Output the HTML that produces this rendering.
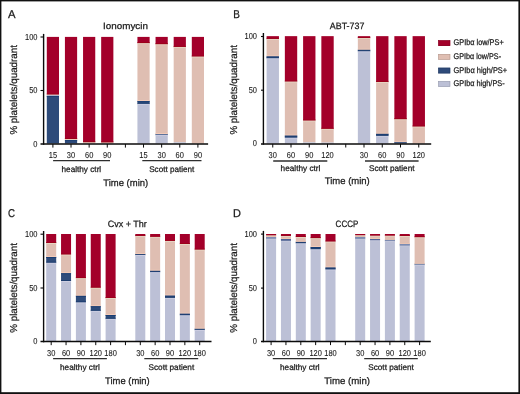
<!DOCTYPE html>
<html><head><meta charset="utf-8"><style>
html,body{margin:0;padding:0;background:#fff;}
body{width:520px;height:394px;overflow:hidden;}
svg{display:block;font-family:"Liberation Sans", sans-serif;will-change:transform;text-rendering:geometricPrecision;}
</style></head><body>
<svg width="520" height="394" viewBox="0 0 520 394">
<rect x="0" y="0" width="520" height="394" fill="#fff"/>
<rect x="46.80" y="36.90" width="12.20" height="57.60" fill="#A3002A"/>
<rect x="46.80" y="94.50" width="12.20" height="0.80" fill="#DFBEB2"/>
<rect x="46.80" y="95.30" width="12.20" height="0.60" fill="#BCC0D6"/>
<rect x="46.80" y="95.90" width="12.20" height="47.60" fill="#2E4B7A"/>
<rect x="46.80" y="94.50" width="12.20" height="0.40" fill="#e6d5c2"/>
<rect x="46.80" y="93.50" width="12.20" height="1.00" fill="#9c001a"/>
<rect x="46.80" y="95.60" width="12.20" height="0.30" fill="#cdcee1"/>
<rect x="46.80" y="95.90" width="12.20" height="1.00" fill="#1d3d6f"/>
<rect x="64.92" y="36.90" width="12.20" height="102.10" fill="#A3002A"/>
<rect x="64.92" y="139.00" width="12.20" height="1.10" fill="#DFBEB2"/>
<rect x="64.92" y="140.10" width="12.20" height="3.40" fill="#2E4B7A"/>
<rect x="64.92" y="139.00" width="12.20" height="0.55" fill="#e6d5c2"/>
<rect x="64.92" y="138.00" width="12.20" height="1.00" fill="#9c001a"/>
<rect x="64.92" y="139.55" width="12.20" height="0.55" fill="#f4ccb9"/>
<rect x="64.92" y="140.10" width="12.20" height="1.00" fill="#193d73"/>
<rect x="83.05" y="36.90" width="12.20" height="105.30" fill="#A3002A"/>
<rect x="83.05" y="142.20" width="12.20" height="1.30" fill="#DFBEB2"/>
<rect x="83.05" y="142.20" width="12.20" height="0.65" fill="#e6d5c2"/>
<rect x="83.05" y="141.20" width="12.20" height="1.00" fill="#9c001a"/>
<rect x="101.17" y="36.90" width="12.20" height="105.50" fill="#A3002A"/>
<rect x="101.17" y="142.40" width="12.20" height="1.10" fill="#DFBEB2"/>
<rect x="101.17" y="142.40" width="12.20" height="0.55" fill="#e6d5c2"/>
<rect x="101.17" y="141.40" width="12.20" height="1.00" fill="#9c001a"/>
<rect x="137.43" y="36.90" width="12.20" height="6.20" fill="#A3002A"/>
<rect x="137.43" y="43.10" width="12.20" height="58.00" fill="#DFBEB2"/>
<rect x="137.43" y="101.10" width="12.20" height="2.70" fill="#2E4B7A"/>
<rect x="137.43" y="103.80" width="12.20" height="39.70" fill="#BCC0D6"/>
<rect x="137.43" y="43.10" width="12.20" height="1.00" fill="#e6d5c2"/>
<rect x="137.43" y="42.10" width="12.20" height="1.00" fill="#9c001a"/>
<rect x="137.43" y="100.10" width="12.20" height="1.00" fill="#f4ccb9"/>
<rect x="137.43" y="101.10" width="12.20" height="1.00" fill="#193d73"/>
<rect x="137.43" y="103.80" width="12.20" height="1.00" fill="#cdcee1"/>
<rect x="137.43" y="102.80" width="12.20" height="1.00" fill="#1d3d6f"/>
<rect x="155.55" y="36.90" width="12.20" height="7.30" fill="#A3002A"/>
<rect x="155.55" y="44.20" width="12.20" height="89.80" fill="#DFBEB2"/>
<rect x="155.55" y="134.00" width="12.20" height="0.70" fill="#2E4B7A"/>
<rect x="155.55" y="134.70" width="12.20" height="8.80" fill="#BCC0D6"/>
<rect x="155.55" y="44.20" width="12.20" height="1.00" fill="#e6d5c2"/>
<rect x="155.55" y="43.20" width="12.20" height="1.00" fill="#9c001a"/>
<rect x="155.55" y="133.00" width="12.20" height="1.00" fill="#f4ccb9"/>
<rect x="155.55" y="134.00" width="12.20" height="0.35" fill="#193d73"/>
<rect x="155.55" y="134.70" width="12.20" height="1.00" fill="#cdcee1"/>
<rect x="155.55" y="134.35" width="12.20" height="0.35" fill="#1d3d6f"/>
<rect x="173.68" y="36.90" width="12.20" height="10.00" fill="#A3002A"/>
<rect x="173.68" y="46.90" width="12.20" height="95.40" fill="#DFBEB2"/>
<rect x="173.68" y="142.30" width="12.20" height="1.20" fill="#BCC0D6"/>
<rect x="173.68" y="46.90" width="12.20" height="1.00" fill="#e6d5c2"/>
<rect x="173.68" y="45.90" width="12.20" height="1.00" fill="#9c001a"/>
<rect x="191.80" y="36.90" width="12.20" height="19.60" fill="#A3002A"/>
<rect x="191.80" y="56.50" width="12.20" height="87.00" fill="#DFBEB2"/>
<rect x="191.80" y="56.50" width="12.20" height="1.00" fill="#e6d5c2"/>
<rect x="191.80" y="55.50" width="12.20" height="1.00" fill="#9c001a"/>
<line x1="43.60" y1="33.90" x2="43.60" y2="144.75" stroke="#0a0a0a" stroke-width="1.4"/>
<line x1="40.50" y1="37.00" x2="43.60" y2="37.00" stroke="#0a0a0a" stroke-width="1.1"/>
<line x1="40.50" y1="90.50" x2="43.60" y2="90.50" stroke="#0a0a0a" stroke-width="1.1"/>
<line x1="40.50" y1="144.00" x2="208.10" y2="144.00" stroke="#0a0a0a" stroke-width="1.5"/>
<line x1="52.90" y1="144.00" x2="52.90" y2="147.60" stroke="#0a0a0a" stroke-width="1.0"/>
<line x1="71.03" y1="144.00" x2="71.03" y2="147.60" stroke="#0a0a0a" stroke-width="1.0"/>
<line x1="89.15" y1="144.00" x2="89.15" y2="147.60" stroke="#0a0a0a" stroke-width="1.0"/>
<line x1="107.28" y1="144.00" x2="107.28" y2="147.60" stroke="#0a0a0a" stroke-width="1.0"/>
<line x1="125.40" y1="144.00" x2="125.40" y2="147.60" stroke="#0a0a0a" stroke-width="1.0"/>
<line x1="143.53" y1="144.00" x2="143.53" y2="147.60" stroke="#0a0a0a" stroke-width="1.0"/>
<line x1="161.65" y1="144.00" x2="161.65" y2="147.60" stroke="#0a0a0a" stroke-width="1.0"/>
<line x1="179.78" y1="144.00" x2="179.78" y2="147.60" stroke="#0a0a0a" stroke-width="1.0"/>
<line x1="197.90" y1="144.00" x2="197.90" y2="147.60" stroke="#0a0a0a" stroke-width="1.0"/>
<text x="0.00" y="0.00" font-size="8.6" text-anchor="end" transform="translate(37.50 39.50) scale(0.87 1)" fill="#1a1a1a" stroke="#1a1a1a" stroke-width="0.1">100</text>
<text x="0.00" y="0.00" font-size="8.6" text-anchor="end" transform="translate(37.50 93.00) scale(0.87 1)" fill="#1a1a1a" stroke="#1a1a1a" stroke-width="0.1">50</text>
<text x="0.00" y="0.00" font-size="8.6" text-anchor="end" transform="translate(37.50 146.50) scale(0.87 1)" fill="#1a1a1a" stroke="#1a1a1a" stroke-width="0.1">0</text>
<text x="0.00" y="0.00" font-size="8.6" text-anchor="middle" transform="translate(52.90 157.80) scale(0.87 1)" fill="#1a1a1a" stroke="#1a1a1a" stroke-width="0.1">15</text>
<text x="0.00" y="0.00" font-size="8.6" text-anchor="middle" transform="translate(71.03 157.80) scale(0.87 1)" fill="#1a1a1a" stroke="#1a1a1a" stroke-width="0.1">30</text>
<text x="0.00" y="0.00" font-size="8.6" text-anchor="middle" transform="translate(89.15 157.80) scale(0.87 1)" fill="#1a1a1a" stroke="#1a1a1a" stroke-width="0.1">60</text>
<text x="0.00" y="0.00" font-size="8.6" text-anchor="middle" transform="translate(107.28 157.80) scale(0.87 1)" fill="#1a1a1a" stroke="#1a1a1a" stroke-width="0.1">90</text>
<text x="0.00" y="0.00" font-size="8.6" text-anchor="middle" transform="translate(143.53 157.80) scale(0.87 1)" fill="#1a1a1a" stroke="#1a1a1a" stroke-width="0.1">15</text>
<text x="0.00" y="0.00" font-size="8.6" text-anchor="middle" transform="translate(161.65 157.80) scale(0.87 1)" fill="#1a1a1a" stroke="#1a1a1a" stroke-width="0.1">30</text>
<text x="0.00" y="0.00" font-size="8.6" text-anchor="middle" transform="translate(179.78 157.80) scale(0.87 1)" fill="#1a1a1a" stroke="#1a1a1a" stroke-width="0.1">60</text>
<text x="0.00" y="0.00" font-size="8.6" text-anchor="middle" transform="translate(197.90 157.80) scale(0.87 1)" fill="#1a1a1a" stroke="#1a1a1a" stroke-width="0.1">90</text>
<line x1="53.10" y1="160.60" x2="110.00" y2="160.60" stroke="#2e2e2e" stroke-width="1.3"/>
<line x1="142.30" y1="160.60" x2="201.50" y2="160.60" stroke="#2e2e2e" stroke-width="1.3"/>
<text x="61.50" y="171.60" font-size="8.2" text-anchor="start" textLength="39.70" lengthAdjust="spacingAndGlyphs" fill="#1a1a1a" stroke="#1a1a1a" stroke-width="0.25">healthy ctrl</text>
<text x="149.20" y="171.60" font-size="8.2" text-anchor="start" textLength="45.10" lengthAdjust="spacingAndGlyphs" fill="#1a1a1a" stroke="#1a1a1a" stroke-width="0.25">Scott patient</text>
<text x="103.30" y="185.90" font-size="9.5" text-anchor="start" textLength="44.90" lengthAdjust="spacingAndGlyphs" fill="#1a1a1a" stroke="#1a1a1a" stroke-width="0.25">Time (min)</text>
<text x="103.10" y="29.20" font-size="9.2" text-anchor="start" textLength="44.80" lengthAdjust="spacingAndGlyphs" fill="#1a1a1a" stroke="#1a1a1a" stroke-width="0.25">Ionomycin</text>
<text x="0.00" y="0.00" font-size="11.3" text-anchor="start" transform="translate(8.00 18.00) scale(1.0 1)" fill="#1a1a1a" stroke="#1a1a1a" stroke-width="0.25">A</text>
<text x="17.00" y="134.60" font-size="10" text-anchor="start" textLength="89.60" lengthAdjust="spacingAndGlyphs" transform="rotate(-90 17.00 134.60)" fill="#1a1a1a" stroke="#1a1a1a" stroke-width="0.25">% platelets/quadrant</text>
<rect x="266.60" y="36.15" width="12.35" height="2.75" fill="#A3002A"/>
<rect x="266.60" y="38.90" width="12.35" height="17.50" fill="#DFBEB2"/>
<rect x="266.60" y="56.40" width="12.35" height="1.80" fill="#2E4B7A"/>
<rect x="266.60" y="58.20" width="12.35" height="85.30" fill="#BCC0D6"/>
<rect x="266.60" y="38.90" width="12.35" height="1.00" fill="#e6d5c2"/>
<rect x="266.60" y="37.90" width="12.35" height="1.00" fill="#9c001a"/>
<rect x="266.60" y="55.40" width="12.35" height="1.00" fill="#f4ccb9"/>
<rect x="266.60" y="56.40" width="12.35" height="0.90" fill="#193d73"/>
<rect x="266.60" y="58.20" width="12.35" height="1.00" fill="#cdcee1"/>
<rect x="266.60" y="57.30" width="12.35" height="0.90" fill="#1d3d6f"/>
<rect x="284.85" y="36.15" width="12.35" height="45.35" fill="#A3002A"/>
<rect x="284.85" y="81.50" width="12.35" height="54.10" fill="#DFBEB2"/>
<rect x="284.85" y="135.60" width="12.35" height="2.00" fill="#2E4B7A"/>
<rect x="284.85" y="137.60" width="12.35" height="5.90" fill="#BCC0D6"/>
<rect x="284.85" y="81.50" width="12.35" height="1.00" fill="#e6d5c2"/>
<rect x="284.85" y="80.50" width="12.35" height="1.00" fill="#9c001a"/>
<rect x="284.85" y="134.60" width="12.35" height="1.00" fill="#f4ccb9"/>
<rect x="284.85" y="135.60" width="12.35" height="1.00" fill="#193d73"/>
<rect x="284.85" y="137.60" width="12.35" height="1.00" fill="#cdcee1"/>
<rect x="284.85" y="136.60" width="12.35" height="1.00" fill="#1d3d6f"/>
<rect x="303.10" y="36.15" width="12.35" height="84.35" fill="#A3002A"/>
<rect x="303.10" y="120.50" width="12.35" height="21.90" fill="#DFBEB2"/>
<rect x="303.10" y="142.40" width="12.35" height="1.10" fill="#BCC0D6"/>
<rect x="303.10" y="120.50" width="12.35" height="1.00" fill="#e6d5c2"/>
<rect x="303.10" y="119.50" width="12.35" height="1.00" fill="#9c001a"/>
<rect x="321.35" y="36.15" width="12.35" height="92.65" fill="#A3002A"/>
<rect x="321.35" y="128.80" width="12.35" height="13.80" fill="#DFBEB2"/>
<rect x="321.35" y="142.60" width="12.35" height="0.90" fill="#BCC0D6"/>
<rect x="321.35" y="128.80" width="12.35" height="1.00" fill="#e6d5c2"/>
<rect x="321.35" y="127.80" width="12.35" height="1.00" fill="#9c001a"/>
<rect x="357.85" y="36.15" width="12.35" height="1.85" fill="#A3002A"/>
<rect x="357.85" y="38.00" width="12.35" height="11.80" fill="#DFBEB2"/>
<rect x="357.85" y="49.80" width="12.35" height="1.20" fill="#2E4B7A"/>
<rect x="357.85" y="51.00" width="12.35" height="0.60" fill="#8390B4"/>
<rect x="357.85" y="51.60" width="12.35" height="91.90" fill="#BCC0D6"/>
<rect x="357.85" y="38.00" width="12.35" height="1.00" fill="#e6d5c2"/>
<rect x="357.85" y="37.08" width="12.35" height="0.93" fill="#9c001a"/>
<rect x="357.85" y="48.80" width="12.35" height="1.00" fill="#f4ccb9"/>
<rect x="357.85" y="49.80" width="12.35" height="0.60" fill="#193d73"/>
<rect x="357.85" y="51.00" width="12.35" height="0.30" fill="#8d98bb"/>
<rect x="357.85" y="50.40" width="12.35" height="0.60" fill="#244373"/>
<rect x="357.85" y="51.60" width="12.35" height="1.00" fill="#c3c6da"/>
<rect x="357.85" y="51.30" width="12.35" height="0.30" fill="#7c8ab0"/>
<rect x="376.10" y="36.15" width="12.35" height="45.80" fill="#A3002A"/>
<rect x="376.10" y="81.95" width="12.35" height="51.85" fill="#DFBEB2"/>
<rect x="376.10" y="133.80" width="12.35" height="2.00" fill="#2E4B7A"/>
<rect x="376.10" y="135.80" width="12.35" height="7.70" fill="#BCC0D6"/>
<rect x="376.10" y="81.95" width="12.35" height="1.00" fill="#e6d5c2"/>
<rect x="376.10" y="80.95" width="12.35" height="1.00" fill="#9c001a"/>
<rect x="376.10" y="132.80" width="12.35" height="1.00" fill="#f4ccb9"/>
<rect x="376.10" y="133.80" width="12.35" height="1.00" fill="#193d73"/>
<rect x="376.10" y="135.80" width="12.35" height="1.00" fill="#cdcee1"/>
<rect x="376.10" y="134.80" width="12.35" height="1.00" fill="#1d3d6f"/>
<rect x="394.35" y="36.15" width="12.35" height="83.05" fill="#A3002A"/>
<rect x="394.35" y="119.20" width="12.35" height="23.10" fill="#DFBEB2"/>
<rect x="394.35" y="142.30" width="12.35" height="1.20" fill="#2E4B7A"/>
<rect x="394.35" y="119.20" width="12.35" height="1.00" fill="#e6d5c2"/>
<rect x="394.35" y="118.20" width="12.35" height="1.00" fill="#9c001a"/>
<rect x="394.35" y="141.30" width="12.35" height="1.00" fill="#f4ccb9"/>
<rect x="394.35" y="142.30" width="12.35" height="0.60" fill="#193d73"/>
<rect x="412.60" y="36.15" width="12.35" height="90.35" fill="#A3002A"/>
<rect x="412.60" y="126.50" width="12.35" height="17.00" fill="#DFBEB2"/>
<rect x="412.60" y="126.50" width="12.35" height="1.00" fill="#e6d5c2"/>
<rect x="412.60" y="125.50" width="12.35" height="1.00" fill="#9c001a"/>
<line x1="263.40" y1="33.00" x2="263.40" y2="144.65" stroke="#0a0a0a" stroke-width="1.4"/>
<line x1="261.00" y1="36.50" x2="263.40" y2="36.50" stroke="#0a0a0a" stroke-width="1.1"/>
<line x1="261.00" y1="90.20" x2="263.40" y2="90.20" stroke="#0a0a0a" stroke-width="1.1"/>
<line x1="261.00" y1="143.90" x2="431.20" y2="143.90" stroke="#0a0a0a" stroke-width="1.5"/>
<line x1="272.75" y1="143.90" x2="272.75" y2="147.50" stroke="#0a0a0a" stroke-width="1.0"/>
<line x1="291.00" y1="143.90" x2="291.00" y2="147.50" stroke="#0a0a0a" stroke-width="1.0"/>
<line x1="309.25" y1="143.90" x2="309.25" y2="147.50" stroke="#0a0a0a" stroke-width="1.0"/>
<line x1="327.50" y1="143.90" x2="327.50" y2="147.50" stroke="#0a0a0a" stroke-width="1.0"/>
<line x1="345.75" y1="143.90" x2="345.75" y2="147.50" stroke="#0a0a0a" stroke-width="1.0"/>
<line x1="364.00" y1="143.90" x2="364.00" y2="147.50" stroke="#0a0a0a" stroke-width="1.0"/>
<line x1="382.25" y1="143.90" x2="382.25" y2="147.50" stroke="#0a0a0a" stroke-width="1.0"/>
<line x1="400.50" y1="143.90" x2="400.50" y2="147.50" stroke="#0a0a0a" stroke-width="1.0"/>
<line x1="418.75" y1="143.90" x2="418.75" y2="147.50" stroke="#0a0a0a" stroke-width="1.0"/>
<text x="0.00" y="0.00" font-size="8.6" text-anchor="end" transform="translate(257.00 39.00) scale(0.87 1)" fill="#1a1a1a" stroke="#1a1a1a" stroke-width="0.1">100</text>
<text x="0.00" y="0.00" font-size="8.6" text-anchor="end" transform="translate(257.00 92.70) scale(0.87 1)" fill="#1a1a1a" stroke="#1a1a1a" stroke-width="0.1">50</text>
<text x="0.00" y="0.00" font-size="8.6" text-anchor="end" transform="translate(257.00 146.40) scale(0.87 1)" fill="#1a1a1a" stroke="#1a1a1a" stroke-width="0.1">0</text>
<text x="0.00" y="0.00" font-size="8.6" text-anchor="middle" transform="translate(272.75 158.00) scale(0.87 1)" fill="#1a1a1a" stroke="#1a1a1a" stroke-width="0.1">30</text>
<text x="0.00" y="0.00" font-size="8.6" text-anchor="middle" transform="translate(291.00 158.00) scale(0.87 1)" fill="#1a1a1a" stroke="#1a1a1a" stroke-width="0.1">60</text>
<text x="0.00" y="0.00" font-size="8.6" text-anchor="middle" transform="translate(309.25 158.00) scale(0.87 1)" fill="#1a1a1a" stroke="#1a1a1a" stroke-width="0.1">90</text>
<text x="0.00" y="0.00" font-size="8.6" text-anchor="middle" transform="translate(327.50 158.00) scale(0.87 1)" fill="#1a1a1a" stroke="#1a1a1a" stroke-width="0.1">120</text>
<text x="0.00" y="0.00" font-size="8.6" text-anchor="middle" transform="translate(364.00 158.00) scale(0.87 1)" fill="#1a1a1a" stroke="#1a1a1a" stroke-width="0.1">30</text>
<text x="0.00" y="0.00" font-size="8.6" text-anchor="middle" transform="translate(382.25 158.00) scale(0.87 1)" fill="#1a1a1a" stroke="#1a1a1a" stroke-width="0.1">60</text>
<text x="0.00" y="0.00" font-size="8.6" text-anchor="middle" transform="translate(400.50 158.00) scale(0.87 1)" fill="#1a1a1a" stroke="#1a1a1a" stroke-width="0.1">90</text>
<text x="0.00" y="0.00" font-size="8.6" text-anchor="middle" transform="translate(418.75 158.00) scale(0.87 1)" fill="#1a1a1a" stroke="#1a1a1a" stroke-width="0.1">120</text>
<line x1="273.20" y1="161.00" x2="327.30" y2="161.00" stroke="#2e2e2e" stroke-width="1.3"/>
<line x1="365.00" y1="161.00" x2="418.60" y2="161.00" stroke="#2e2e2e" stroke-width="1.3"/>
<text x="280.60" y="170.90" font-size="8.2" text-anchor="start" textLength="39.80" lengthAdjust="spacingAndGlyphs" fill="#1a1a1a" stroke="#1a1a1a" stroke-width="0.25">healthy ctrl</text>
<text x="369.00" y="170.90" font-size="8.2" text-anchor="start" textLength="45.50" lengthAdjust="spacingAndGlyphs" fill="#1a1a1a" stroke="#1a1a1a" stroke-width="0.25">Scott patient</text>
<text x="324.80" y="184.40" font-size="9.5" text-anchor="start" textLength="45.00" lengthAdjust="spacingAndGlyphs" fill="#1a1a1a" stroke="#1a1a1a" stroke-width="0.25">Time (min)</text>
<text x="329.80" y="29.10" font-size="9.2" text-anchor="start" textLength="34.60" lengthAdjust="spacingAndGlyphs" fill="#1a1a1a" stroke="#1a1a1a" stroke-width="0.25">ABT-737</text>
<text x="0.00" y="0.00" font-size="11.3" text-anchor="start" transform="translate(233.20 18.20) scale(0.88 1)" fill="#1a1a1a" stroke="#1a1a1a" stroke-width="0.25">B</text>
<text x="236.70" y="134.60" font-size="10" text-anchor="start" textLength="89.60" lengthAdjust="spacingAndGlyphs" transform="rotate(-90 236.70 134.60)" fill="#1a1a1a" stroke="#1a1a1a" stroke-width="0.25">% platelets/quadrant</text>
<rect x="46.20" y="234.00" width="10.00" height="9.00" fill="#A3002A"/>
<rect x="46.20" y="243.00" width="10.00" height="14.00" fill="#DFBEB2"/>
<rect x="46.20" y="257.00" width="10.00" height="5.70" fill="#2E4B7A"/>
<rect x="46.20" y="262.70" width="10.00" height="78.30" fill="#BCC0D6"/>
<rect x="46.20" y="243.00" width="10.00" height="1.00" fill="#e6d5c2"/>
<rect x="46.20" y="242.00" width="10.00" height="1.00" fill="#9c001a"/>
<rect x="46.20" y="256.00" width="10.00" height="1.00" fill="#f4ccb9"/>
<rect x="46.20" y="257.00" width="10.00" height="1.00" fill="#193d73"/>
<rect x="46.20" y="262.70" width="10.00" height="1.00" fill="#cdcee1"/>
<rect x="46.20" y="261.70" width="10.00" height="1.00" fill="#1d3d6f"/>
<rect x="61.05" y="234.00" width="10.00" height="20.50" fill="#A3002A"/>
<rect x="61.05" y="254.50" width="10.00" height="18.70" fill="#DFBEB2"/>
<rect x="61.05" y="273.20" width="10.00" height="7.80" fill="#2E4B7A"/>
<rect x="61.05" y="281.00" width="10.00" height="60.00" fill="#BCC0D6"/>
<rect x="61.05" y="254.50" width="10.00" height="1.00" fill="#e6d5c2"/>
<rect x="61.05" y="253.50" width="10.00" height="1.00" fill="#9c001a"/>
<rect x="61.05" y="272.20" width="10.00" height="1.00" fill="#f4ccb9"/>
<rect x="61.05" y="273.20" width="10.00" height="1.00" fill="#193d73"/>
<rect x="61.05" y="281.00" width="10.00" height="1.00" fill="#cdcee1"/>
<rect x="61.05" y="280.00" width="10.00" height="1.00" fill="#1d3d6f"/>
<rect x="75.90" y="234.00" width="10.00" height="44.10" fill="#A3002A"/>
<rect x="75.90" y="278.10" width="10.00" height="17.70" fill="#DFBEB2"/>
<rect x="75.90" y="295.80" width="10.00" height="6.50" fill="#2E4B7A"/>
<rect x="75.90" y="302.30" width="10.00" height="38.70" fill="#BCC0D6"/>
<rect x="75.90" y="278.10" width="10.00" height="1.00" fill="#e6d5c2"/>
<rect x="75.90" y="277.10" width="10.00" height="1.00" fill="#9c001a"/>
<rect x="75.90" y="294.80" width="10.00" height="1.00" fill="#f4ccb9"/>
<rect x="75.90" y="295.80" width="10.00" height="1.00" fill="#193d73"/>
<rect x="75.90" y="302.30" width="10.00" height="1.00" fill="#cdcee1"/>
<rect x="75.90" y="301.30" width="10.00" height="1.00" fill="#1d3d6f"/>
<rect x="90.75" y="234.00" width="10.00" height="53.70" fill="#A3002A"/>
<rect x="90.75" y="287.70" width="10.00" height="18.50" fill="#DFBEB2"/>
<rect x="90.75" y="306.20" width="10.00" height="4.60" fill="#2E4B7A"/>
<rect x="90.75" y="310.80" width="10.00" height="30.20" fill="#BCC0D6"/>
<rect x="90.75" y="287.70" width="10.00" height="1.00" fill="#e6d5c2"/>
<rect x="90.75" y="286.70" width="10.00" height="1.00" fill="#9c001a"/>
<rect x="90.75" y="305.20" width="10.00" height="1.00" fill="#f4ccb9"/>
<rect x="90.75" y="306.20" width="10.00" height="1.00" fill="#193d73"/>
<rect x="90.75" y="310.80" width="10.00" height="1.00" fill="#cdcee1"/>
<rect x="90.75" y="309.80" width="10.00" height="1.00" fill="#1d3d6f"/>
<rect x="105.60" y="234.00" width="10.00" height="64.00" fill="#A3002A"/>
<rect x="105.60" y="298.00" width="10.00" height="17.00" fill="#DFBEB2"/>
<rect x="105.60" y="315.00" width="10.00" height="3.80" fill="#2E4B7A"/>
<rect x="105.60" y="318.80" width="10.00" height="22.20" fill="#BCC0D6"/>
<rect x="105.60" y="298.00" width="10.00" height="1.00" fill="#e6d5c2"/>
<rect x="105.60" y="297.00" width="10.00" height="1.00" fill="#9c001a"/>
<rect x="105.60" y="314.00" width="10.00" height="1.00" fill="#f4ccb9"/>
<rect x="105.60" y="315.00" width="10.00" height="1.00" fill="#193d73"/>
<rect x="105.60" y="318.80" width="10.00" height="1.00" fill="#cdcee1"/>
<rect x="105.60" y="317.80" width="10.00" height="1.00" fill="#1d3d6f"/>
<rect x="135.30" y="234.00" width="10.00" height="1.90" fill="#A3002A"/>
<rect x="135.30" y="235.90" width="10.00" height="18.20" fill="#DFBEB2"/>
<rect x="135.30" y="254.10" width="10.00" height="0.90" fill="#2E4B7A"/>
<rect x="135.30" y="255.00" width="10.00" height="86.00" fill="#BCC0D6"/>
<rect x="135.30" y="235.90" width="10.00" height="1.00" fill="#e6d5c2"/>
<rect x="135.30" y="234.95" width="10.00" height="0.95" fill="#9c001a"/>
<rect x="135.30" y="253.10" width="10.00" height="1.00" fill="#f4ccb9"/>
<rect x="135.30" y="254.10" width="10.00" height="0.45" fill="#193d73"/>
<rect x="135.30" y="255.00" width="10.00" height="1.00" fill="#cdcee1"/>
<rect x="135.30" y="254.55" width="10.00" height="0.45" fill="#1d3d6f"/>
<rect x="150.15" y="234.00" width="10.00" height="2.80" fill="#A3002A"/>
<rect x="150.15" y="236.80" width="10.00" height="34.00" fill="#DFBEB2"/>
<rect x="150.15" y="270.80" width="10.00" height="1.30" fill="#2E4B7A"/>
<rect x="150.15" y="272.10" width="10.00" height="68.90" fill="#BCC0D6"/>
<rect x="150.15" y="236.80" width="10.00" height="1.00" fill="#e6d5c2"/>
<rect x="150.15" y="235.80" width="10.00" height="1.00" fill="#9c001a"/>
<rect x="150.15" y="269.80" width="10.00" height="1.00" fill="#f4ccb9"/>
<rect x="150.15" y="270.80" width="10.00" height="0.65" fill="#193d73"/>
<rect x="150.15" y="272.10" width="10.00" height="1.00" fill="#cdcee1"/>
<rect x="150.15" y="271.45" width="10.00" height="0.65" fill="#1d3d6f"/>
<rect x="165.00" y="234.00" width="10.00" height="6.90" fill="#A3002A"/>
<rect x="165.00" y="240.90" width="10.00" height="54.70" fill="#DFBEB2"/>
<rect x="165.00" y="295.60" width="10.00" height="2.20" fill="#2E4B7A"/>
<rect x="165.00" y="297.80" width="10.00" height="43.20" fill="#BCC0D6"/>
<rect x="165.00" y="240.90" width="10.00" height="1.00" fill="#e6d5c2"/>
<rect x="165.00" y="239.90" width="10.00" height="1.00" fill="#9c001a"/>
<rect x="165.00" y="294.60" width="10.00" height="1.00" fill="#f4ccb9"/>
<rect x="165.00" y="295.60" width="10.00" height="1.00" fill="#193d73"/>
<rect x="165.00" y="297.80" width="10.00" height="1.00" fill="#cdcee1"/>
<rect x="165.00" y="296.80" width="10.00" height="1.00" fill="#1d3d6f"/>
<rect x="179.85" y="234.00" width="10.00" height="10.00" fill="#A3002A"/>
<rect x="179.85" y="244.00" width="10.00" height="69.70" fill="#DFBEB2"/>
<rect x="179.85" y="313.70" width="10.00" height="1.50" fill="#2E4B7A"/>
<rect x="179.85" y="315.20" width="10.00" height="25.80" fill="#BCC0D6"/>
<rect x="179.85" y="244.00" width="10.00" height="1.00" fill="#e6d5c2"/>
<rect x="179.85" y="243.00" width="10.00" height="1.00" fill="#9c001a"/>
<rect x="179.85" y="312.70" width="10.00" height="1.00" fill="#f4ccb9"/>
<rect x="179.85" y="313.70" width="10.00" height="0.75" fill="#193d73"/>
<rect x="179.85" y="315.20" width="10.00" height="1.00" fill="#cdcee1"/>
<rect x="179.85" y="314.45" width="10.00" height="0.75" fill="#1d3d6f"/>
<rect x="194.70" y="234.00" width="10.00" height="15.60" fill="#A3002A"/>
<rect x="194.70" y="249.60" width="10.00" height="79.20" fill="#DFBEB2"/>
<rect x="194.70" y="328.80" width="10.00" height="1.10" fill="#2E4B7A"/>
<rect x="194.70" y="329.90" width="10.00" height="11.10" fill="#BCC0D6"/>
<rect x="194.70" y="249.60" width="10.00" height="1.00" fill="#e6d5c2"/>
<rect x="194.70" y="248.60" width="10.00" height="1.00" fill="#9c001a"/>
<rect x="194.70" y="327.80" width="10.00" height="1.00" fill="#f4ccb9"/>
<rect x="194.70" y="328.80" width="10.00" height="0.55" fill="#193d73"/>
<rect x="194.70" y="329.90" width="10.00" height="1.00" fill="#cdcee1"/>
<rect x="194.70" y="329.35" width="10.00" height="0.55" fill="#1d3d6f"/>
<line x1="43.60" y1="231.00" x2="43.60" y2="342.30" stroke="#0a0a0a" stroke-width="1.4"/>
<line x1="40.50" y1="234.20" x2="43.60" y2="234.20" stroke="#0a0a0a" stroke-width="1.1"/>
<line x1="40.50" y1="288.00" x2="43.60" y2="288.00" stroke="#0a0a0a" stroke-width="1.1"/>
<line x1="40.50" y1="341.55" x2="211.50" y2="341.55" stroke="#0a0a0a" stroke-width="1.5"/>
<line x1="51.20" y1="341.55" x2="51.20" y2="345.15" stroke="#0a0a0a" stroke-width="1.0"/>
<line x1="66.05" y1="341.55" x2="66.05" y2="345.15" stroke="#0a0a0a" stroke-width="1.0"/>
<line x1="80.90" y1="341.55" x2="80.90" y2="345.15" stroke="#0a0a0a" stroke-width="1.0"/>
<line x1="95.75" y1="341.55" x2="95.75" y2="345.15" stroke="#0a0a0a" stroke-width="1.0"/>
<line x1="110.60" y1="341.55" x2="110.60" y2="345.15" stroke="#0a0a0a" stroke-width="1.0"/>
<line x1="125.45" y1="341.55" x2="125.45" y2="345.15" stroke="#0a0a0a" stroke-width="1.0"/>
<line x1="140.30" y1="341.55" x2="140.30" y2="345.15" stroke="#0a0a0a" stroke-width="1.0"/>
<line x1="155.15" y1="341.55" x2="155.15" y2="345.15" stroke="#0a0a0a" stroke-width="1.0"/>
<line x1="170.00" y1="341.55" x2="170.00" y2="345.15" stroke="#0a0a0a" stroke-width="1.0"/>
<line x1="184.85" y1="341.55" x2="184.85" y2="345.15" stroke="#0a0a0a" stroke-width="1.0"/>
<line x1="199.70" y1="341.55" x2="199.70" y2="345.15" stroke="#0a0a0a" stroke-width="1.0"/>
<text x="0.00" y="0.00" font-size="8.6" text-anchor="end" transform="translate(37.50 236.70) scale(0.87 1)" fill="#1a1a1a" stroke="#1a1a1a" stroke-width="0.1">100</text>
<text x="0.00" y="0.00" font-size="8.6" text-anchor="end" transform="translate(37.50 290.50) scale(0.87 1)" fill="#1a1a1a" stroke="#1a1a1a" stroke-width="0.1">50</text>
<text x="0.00" y="0.00" font-size="8.6" text-anchor="end" transform="translate(37.50 344.05) scale(0.87 1)" fill="#1a1a1a" stroke="#1a1a1a" stroke-width="0.1">0</text>
<text x="0.00" y="0.00" font-size="8.6" text-anchor="middle" transform="translate(51.20 356.30) scale(0.87 1)" fill="#1a1a1a" stroke="#1a1a1a" stroke-width="0.1">30</text>
<text x="0.00" y="0.00" font-size="8.6" text-anchor="middle" transform="translate(66.05 356.30) scale(0.87 1)" fill="#1a1a1a" stroke="#1a1a1a" stroke-width="0.1">60</text>
<text x="0.00" y="0.00" font-size="8.6" text-anchor="middle" transform="translate(80.90 356.30) scale(0.87 1)" fill="#1a1a1a" stroke="#1a1a1a" stroke-width="0.1">90</text>
<text x="0.00" y="0.00" font-size="8.6" text-anchor="middle" transform="translate(95.75 356.30) scale(0.87 1)" fill="#1a1a1a" stroke="#1a1a1a" stroke-width="0.1">120</text>
<text x="0.00" y="0.00" font-size="8.6" text-anchor="middle" transform="translate(110.60 356.30) scale(0.87 1)" fill="#1a1a1a" stroke="#1a1a1a" stroke-width="0.1">180</text>
<text x="0.00" y="0.00" font-size="8.6" text-anchor="middle" transform="translate(140.30 356.30) scale(0.87 1)" fill="#1a1a1a" stroke="#1a1a1a" stroke-width="0.1">30</text>
<text x="0.00" y="0.00" font-size="8.6" text-anchor="middle" transform="translate(155.15 356.30) scale(0.87 1)" fill="#1a1a1a" stroke="#1a1a1a" stroke-width="0.1">60</text>
<text x="0.00" y="0.00" font-size="8.6" text-anchor="middle" transform="translate(170.00 356.30) scale(0.87 1)" fill="#1a1a1a" stroke="#1a1a1a" stroke-width="0.1">90</text>
<text x="0.00" y="0.00" font-size="8.6" text-anchor="middle" transform="translate(184.85 356.30) scale(0.87 1)" fill="#1a1a1a" stroke="#1a1a1a" stroke-width="0.1">120</text>
<text x="0.00" y="0.00" font-size="8.6" text-anchor="middle" transform="translate(199.70 356.30) scale(0.87 1)" fill="#1a1a1a" stroke="#1a1a1a" stroke-width="0.1">180</text>
<line x1="53.10" y1="358.60" x2="106.90" y2="358.60" stroke="#2e2e2e" stroke-width="1.3"/>
<line x1="144.30" y1="358.60" x2="198.20" y2="358.60" stroke="#2e2e2e" stroke-width="1.3"/>
<text x="60.00" y="369.80" font-size="8.2" text-anchor="start" textLength="39.80" lengthAdjust="spacingAndGlyphs" fill="#1a1a1a" stroke="#1a1a1a" stroke-width="0.25">healthy ctrl</text>
<text x="148.50" y="369.80" font-size="8.2" text-anchor="start" textLength="45.70" lengthAdjust="spacingAndGlyphs" fill="#1a1a1a" stroke="#1a1a1a" stroke-width="0.25">Scott patient</text>
<text x="105.10" y="384.00" font-size="9.5" text-anchor="start" textLength="44.60" lengthAdjust="spacingAndGlyphs" fill="#1a1a1a" stroke="#1a1a1a" stroke-width="0.25">Time (min)</text>
<text x="107.80" y="226.80" font-size="9.2" text-anchor="start" textLength="39.00" lengthAdjust="spacingAndGlyphs" fill="#1a1a1a" stroke="#1a1a1a" stroke-width="0.25">Cvx + Thr</text>
<text x="0.00" y="0.00" font-size="11.3" text-anchor="start" transform="translate(7.90 216.60) scale(0.86 1)" fill="#1a1a1a" stroke="#1a1a1a" stroke-width="0.25">C</text>
<text x="17.00" y="332.80" font-size="10" text-anchor="start" textLength="89.80" lengthAdjust="spacingAndGlyphs" transform="rotate(-90 17.00 332.80)" fill="#1a1a1a" stroke="#1a1a1a" stroke-width="0.25">% platelets/quadrant</text>
<rect x="266.10" y="234.00" width="10.00" height="1.30" fill="#A3002A"/>
<rect x="266.10" y="235.30" width="10.00" height="1.80" fill="#DFBEB2"/>
<rect x="266.10" y="237.10" width="10.00" height="1.60" fill="#8390B4"/>
<rect x="266.10" y="238.70" width="10.00" height="102.30" fill="#BCC0D6"/>
<rect x="266.10" y="235.30" width="10.00" height="0.90" fill="#e6d5c2"/>
<rect x="266.10" y="234.65" width="10.00" height="0.65" fill="#9c001a"/>
<rect x="266.10" y="236.20" width="10.00" height="0.90" fill="#eac4b2"/>
<rect x="266.10" y="237.10" width="10.00" height="0.80" fill="#788ab4"/>
<rect x="266.10" y="238.70" width="10.00" height="1.00" fill="#c3c6da"/>
<rect x="266.10" y="237.90" width="10.00" height="0.80" fill="#7c8ab0"/>
<rect x="280.95" y="234.00" width="10.00" height="1.90" fill="#A3002A"/>
<rect x="280.95" y="235.90" width="10.00" height="3.10" fill="#DFBEB2"/>
<rect x="280.95" y="239.00" width="10.00" height="1.70" fill="#5A6C9A"/>
<rect x="280.95" y="240.70" width="10.00" height="100.30" fill="#BCC0D6"/>
<rect x="280.95" y="235.90" width="10.00" height="1.00" fill="#e6d5c2"/>
<rect x="280.95" y="234.95" width="10.00" height="0.95" fill="#9c001a"/>
<rect x="280.95" y="238.00" width="10.00" height="1.00" fill="#efc8b5"/>
<rect x="280.95" y="239.00" width="10.00" height="0.85" fill="#4a6297"/>
<rect x="280.95" y="240.70" width="10.00" height="1.00" fill="#c8cadd"/>
<rect x="280.95" y="239.85" width="10.00" height="0.85" fill="#4e6293"/>
<rect x="295.80" y="234.00" width="10.00" height="3.00" fill="#A3002A"/>
<rect x="295.80" y="237.00" width="10.00" height="4.90" fill="#DFBEB2"/>
<rect x="295.80" y="241.90" width="10.00" height="1.30" fill="#2E4B7A"/>
<rect x="295.80" y="243.20" width="10.00" height="97.80" fill="#BCC0D6"/>
<rect x="295.80" y="237.00" width="10.00" height="1.00" fill="#e6d5c2"/>
<rect x="295.80" y="236.00" width="10.00" height="1.00" fill="#9c001a"/>
<rect x="295.80" y="240.90" width="10.00" height="1.00" fill="#f4ccb9"/>
<rect x="295.80" y="241.90" width="10.00" height="0.65" fill="#193d73"/>
<rect x="295.80" y="243.20" width="10.00" height="1.00" fill="#cdcee1"/>
<rect x="295.80" y="242.55" width="10.00" height="0.65" fill="#1d3d6f"/>
<rect x="310.65" y="234.00" width="10.00" height="4.10" fill="#A3002A"/>
<rect x="310.65" y="238.10" width="10.00" height="8.90" fill="#DFBEB2"/>
<rect x="310.65" y="247.00" width="10.00" height="2.20" fill="#2E4B7A"/>
<rect x="310.65" y="249.20" width="10.00" height="91.80" fill="#BCC0D6"/>
<rect x="310.65" y="238.10" width="10.00" height="1.00" fill="#e6d5c2"/>
<rect x="310.65" y="237.10" width="10.00" height="1.00" fill="#9c001a"/>
<rect x="310.65" y="246.00" width="10.00" height="1.00" fill="#f4ccb9"/>
<rect x="310.65" y="247.00" width="10.00" height="1.00" fill="#193d73"/>
<rect x="310.65" y="249.20" width="10.00" height="1.00" fill="#cdcee1"/>
<rect x="310.65" y="248.20" width="10.00" height="1.00" fill="#1d3d6f"/>
<rect x="325.50" y="234.00" width="10.00" height="7.50" fill="#A3002A"/>
<rect x="325.50" y="241.50" width="10.00" height="26.00" fill="#DFBEB2"/>
<rect x="325.50" y="267.50" width="10.00" height="1.90" fill="#2E4B7A"/>
<rect x="325.50" y="269.40" width="10.00" height="71.60" fill="#BCC0D6"/>
<rect x="325.50" y="241.50" width="10.00" height="1.00" fill="#e6d5c2"/>
<rect x="325.50" y="240.50" width="10.00" height="1.00" fill="#9c001a"/>
<rect x="325.50" y="266.50" width="10.00" height="1.00" fill="#f4ccb9"/>
<rect x="325.50" y="267.50" width="10.00" height="0.95" fill="#193d73"/>
<rect x="325.50" y="269.40" width="10.00" height="1.00" fill="#cdcee1"/>
<rect x="325.50" y="268.45" width="10.00" height="0.95" fill="#1d3d6f"/>
<rect x="355.20" y="234.00" width="10.00" height="1.20" fill="#A3002A"/>
<rect x="355.20" y="235.20" width="10.00" height="1.70" fill="#DFBEB2"/>
<rect x="355.20" y="236.90" width="10.00" height="1.90" fill="#8390B4"/>
<rect x="355.20" y="238.80" width="10.00" height="102.20" fill="#BCC0D6"/>
<rect x="355.20" y="235.20" width="10.00" height="0.85" fill="#e6d5c2"/>
<rect x="355.20" y="234.60" width="10.00" height="0.60" fill="#9c001a"/>
<rect x="355.20" y="236.05" width="10.00" height="0.85" fill="#eac4b2"/>
<rect x="355.20" y="236.90" width="10.00" height="0.95" fill="#788ab4"/>
<rect x="355.20" y="238.80" width="10.00" height="1.00" fill="#c3c6da"/>
<rect x="355.20" y="237.85" width="10.00" height="0.95" fill="#7c8ab0"/>
<rect x="370.05" y="234.00" width="10.00" height="1.60" fill="#A3002A"/>
<rect x="370.05" y="235.60" width="10.00" height="3.40" fill="#DFBEB2"/>
<rect x="370.05" y="239.00" width="10.00" height="1.20" fill="#5A6C9A"/>
<rect x="370.05" y="240.20" width="10.00" height="100.80" fill="#BCC0D6"/>
<rect x="370.05" y="235.60" width="10.00" height="1.00" fill="#e6d5c2"/>
<rect x="370.05" y="234.80" width="10.00" height="0.80" fill="#9c001a"/>
<rect x="370.05" y="238.00" width="10.00" height="1.00" fill="#efc8b5"/>
<rect x="370.05" y="239.00" width="10.00" height="0.60" fill="#4a6297"/>
<rect x="370.05" y="240.20" width="10.00" height="1.00" fill="#c8cadd"/>
<rect x="370.05" y="239.60" width="10.00" height="0.60" fill="#4e6293"/>
<rect x="384.90" y="234.00" width="10.00" height="1.60" fill="#A3002A"/>
<rect x="384.90" y="235.60" width="10.00" height="4.30" fill="#DFBEB2"/>
<rect x="384.90" y="239.90" width="10.00" height="1.10" fill="#8390B4"/>
<rect x="384.90" y="241.00" width="10.00" height="100.00" fill="#BCC0D6"/>
<rect x="384.90" y="235.60" width="10.00" height="1.00" fill="#e6d5c2"/>
<rect x="384.90" y="234.80" width="10.00" height="0.80" fill="#9c001a"/>
<rect x="384.90" y="238.90" width="10.00" height="1.00" fill="#eac4b2"/>
<rect x="384.90" y="239.90" width="10.00" height="0.55" fill="#788ab4"/>
<rect x="384.90" y="241.00" width="10.00" height="1.00" fill="#c3c6da"/>
<rect x="384.90" y="240.45" width="10.00" height="0.55" fill="#7c8ab0"/>
<rect x="399.75" y="234.00" width="10.00" height="2.00" fill="#A3002A"/>
<rect x="399.75" y="236.00" width="10.00" height="8.00" fill="#DFBEB2"/>
<rect x="399.75" y="244.00" width="10.00" height="1.60" fill="#8390B4"/>
<rect x="399.75" y="245.60" width="10.00" height="95.40" fill="#BCC0D6"/>
<rect x="399.75" y="236.00" width="10.00" height="1.00" fill="#e6d5c2"/>
<rect x="399.75" y="235.00" width="10.00" height="1.00" fill="#9c001a"/>
<rect x="399.75" y="243.00" width="10.00" height="1.00" fill="#eac4b2"/>
<rect x="399.75" y="244.00" width="10.00" height="0.80" fill="#788ab4"/>
<rect x="399.75" y="245.60" width="10.00" height="1.00" fill="#c3c6da"/>
<rect x="399.75" y="244.80" width="10.00" height="0.80" fill="#7c8ab0"/>
<rect x="414.60" y="234.00" width="10.00" height="3.20" fill="#A3002A"/>
<rect x="414.60" y="237.20" width="10.00" height="26.70" fill="#DFBEB2"/>
<rect x="414.60" y="263.90" width="10.00" height="0.60" fill="#2E4B7A"/>
<rect x="414.60" y="264.50" width="10.00" height="76.50" fill="#BCC0D6"/>
<rect x="414.60" y="237.20" width="10.00" height="1.00" fill="#e6d5c2"/>
<rect x="414.60" y="236.20" width="10.00" height="1.00" fill="#9c001a"/>
<rect x="414.60" y="262.90" width="10.00" height="1.00" fill="#f4ccb9"/>
<rect x="414.60" y="263.90" width="10.00" height="0.30" fill="#193d73"/>
<rect x="414.60" y="264.50" width="10.00" height="1.00" fill="#cdcee1"/>
<rect x="414.60" y="264.20" width="10.00" height="0.30" fill="#1d3d6f"/>
<line x1="263.40" y1="230.90" x2="263.40" y2="342.25" stroke="#0a0a0a" stroke-width="1.4"/>
<line x1="261.00" y1="234.10" x2="263.40" y2="234.10" stroke="#0a0a0a" stroke-width="1.1"/>
<line x1="261.00" y1="288.10" x2="263.40" y2="288.10" stroke="#0a0a0a" stroke-width="1.1"/>
<line x1="261.00" y1="341.50" x2="430.80" y2="341.50" stroke="#0a0a0a" stroke-width="1.5"/>
<line x1="271.10" y1="341.50" x2="271.10" y2="345.10" stroke="#0a0a0a" stroke-width="1.0"/>
<line x1="285.95" y1="341.50" x2="285.95" y2="345.10" stroke="#0a0a0a" stroke-width="1.0"/>
<line x1="300.80" y1="341.50" x2="300.80" y2="345.10" stroke="#0a0a0a" stroke-width="1.0"/>
<line x1="315.65" y1="341.50" x2="315.65" y2="345.10" stroke="#0a0a0a" stroke-width="1.0"/>
<line x1="330.50" y1="341.50" x2="330.50" y2="345.10" stroke="#0a0a0a" stroke-width="1.0"/>
<line x1="345.35" y1="341.50" x2="345.35" y2="345.10" stroke="#0a0a0a" stroke-width="1.0"/>
<line x1="360.20" y1="341.50" x2="360.20" y2="345.10" stroke="#0a0a0a" stroke-width="1.0"/>
<line x1="375.05" y1="341.50" x2="375.05" y2="345.10" stroke="#0a0a0a" stroke-width="1.0"/>
<line x1="389.90" y1="341.50" x2="389.90" y2="345.10" stroke="#0a0a0a" stroke-width="1.0"/>
<line x1="404.75" y1="341.50" x2="404.75" y2="345.10" stroke="#0a0a0a" stroke-width="1.0"/>
<line x1="419.60" y1="341.50" x2="419.60" y2="345.10" stroke="#0a0a0a" stroke-width="1.0"/>
<text x="0.00" y="0.00" font-size="8.6" text-anchor="end" transform="translate(257.00 236.60) scale(0.87 1)" fill="#1a1a1a" stroke="#1a1a1a" stroke-width="0.1">100</text>
<text x="0.00" y="0.00" font-size="8.6" text-anchor="end" transform="translate(257.00 290.60) scale(0.87 1)" fill="#1a1a1a" stroke="#1a1a1a" stroke-width="0.1">50</text>
<text x="0.00" y="0.00" font-size="8.6" text-anchor="end" transform="translate(257.00 344.00) scale(0.87 1)" fill="#1a1a1a" stroke="#1a1a1a" stroke-width="0.1">0</text>
<text x="0.00" y="0.00" font-size="8.6" text-anchor="middle" transform="translate(271.10 356.20) scale(0.87 1)" fill="#1a1a1a" stroke="#1a1a1a" stroke-width="0.1">30</text>
<text x="0.00" y="0.00" font-size="8.6" text-anchor="middle" transform="translate(285.95 356.20) scale(0.87 1)" fill="#1a1a1a" stroke="#1a1a1a" stroke-width="0.1">60</text>
<text x="0.00" y="0.00" font-size="8.6" text-anchor="middle" transform="translate(300.80 356.20) scale(0.87 1)" fill="#1a1a1a" stroke="#1a1a1a" stroke-width="0.1">90</text>
<text x="0.00" y="0.00" font-size="8.6" text-anchor="middle" transform="translate(315.65 356.20) scale(0.87 1)" fill="#1a1a1a" stroke="#1a1a1a" stroke-width="0.1">120</text>
<text x="0.00" y="0.00" font-size="8.6" text-anchor="middle" transform="translate(330.50 356.20) scale(0.87 1)" fill="#1a1a1a" stroke="#1a1a1a" stroke-width="0.1">180</text>
<text x="0.00" y="0.00" font-size="8.6" text-anchor="middle" transform="translate(360.20 356.20) scale(0.87 1)" fill="#1a1a1a" stroke="#1a1a1a" stroke-width="0.1">30</text>
<text x="0.00" y="0.00" font-size="8.6" text-anchor="middle" transform="translate(375.05 356.20) scale(0.87 1)" fill="#1a1a1a" stroke="#1a1a1a" stroke-width="0.1">60</text>
<text x="0.00" y="0.00" font-size="8.6" text-anchor="middle" transform="translate(389.90 356.20) scale(0.87 1)" fill="#1a1a1a" stroke="#1a1a1a" stroke-width="0.1">90</text>
<text x="0.00" y="0.00" font-size="8.6" text-anchor="middle" transform="translate(404.75 356.20) scale(0.87 1)" fill="#1a1a1a" stroke="#1a1a1a" stroke-width="0.1">120</text>
<text x="0.00" y="0.00" font-size="8.6" text-anchor="middle" transform="translate(419.60 356.20) scale(0.87 1)" fill="#1a1a1a" stroke="#1a1a1a" stroke-width="0.1">180</text>
<line x1="272.80" y1="358.60" x2="327.00" y2="358.60" stroke="#2e2e2e" stroke-width="1.3"/>
<line x1="364.20" y1="358.60" x2="417.80" y2="358.60" stroke="#2e2e2e" stroke-width="1.3"/>
<text x="280.00" y="369.80" font-size="8.2" text-anchor="start" textLength="39.70" lengthAdjust="spacingAndGlyphs" fill="#1a1a1a" stroke="#1a1a1a" stroke-width="0.25">healthy ctrl</text>
<text x="368.20" y="369.80" font-size="8.2" text-anchor="start" textLength="45.70" lengthAdjust="spacingAndGlyphs" fill="#1a1a1a" stroke="#1a1a1a" stroke-width="0.25">Scott patient</text>
<text x="324.30" y="384.20" font-size="9.5" text-anchor="start" textLength="45.70" lengthAdjust="spacingAndGlyphs" fill="#1a1a1a" stroke="#1a1a1a" stroke-width="0.25">Time (min)</text>
<text x="335.60" y="227.10" font-size="9.2" text-anchor="start" textLength="22.70" lengthAdjust="spacingAndGlyphs" fill="#1a1a1a" stroke="#1a1a1a" stroke-width="0.25">CCCP</text>
<text x="0.00" y="0.00" font-size="11.3" text-anchor="start" transform="translate(233.00 216.50) scale(0.97 1)" fill="#1a1a1a" stroke="#1a1a1a" stroke-width="0.25">D</text>
<text x="236.70" y="332.80" font-size="10" text-anchor="start" textLength="89.80" lengthAdjust="spacingAndGlyphs" transform="rotate(-90 236.70 332.80)" fill="#1a1a1a" stroke="#1a1a1a" stroke-width="0.25">% platelets/quadrant</text>
<rect x="438.30" y="40.35" width="11.90" height="5.60" fill="#A3002A"/>
<rect x="438.60" y="40.65" width="11.30" height="5.00" fill="none" stroke="#850022" stroke-width="0.6"/>
<text x="453.60" y="45.35" font-size="8.3" text-anchor="start" textLength="50.10" lengthAdjust="spacingAndGlyphs" fill="#1a1a1a" stroke="#1a1a1a" stroke-width="0.25">GPIbα low/PS+</text>
<rect x="438.30" y="54.10" width="11.90" height="5.60" fill="#DFBEB2"/>
<rect x="438.60" y="54.40" width="11.30" height="5.00" fill="none" stroke="#b69b91" stroke-width="0.6"/>
<text x="453.60" y="59.10" font-size="8.3" text-anchor="start" textLength="47.50" lengthAdjust="spacingAndGlyphs" fill="#1a1a1a" stroke="#1a1a1a" stroke-width="0.25">GPIbα low/PS-</text>
<rect x="438.30" y="67.75" width="11.90" height="5.60" fill="#2E4B7A"/>
<rect x="438.60" y="68.05" width="11.30" height="5.00" fill="none" stroke="#253d64" stroke-width="0.6"/>
<text x="453.60" y="72.75" font-size="8.3" text-anchor="start" textLength="53.50" lengthAdjust="spacingAndGlyphs" fill="#1a1a1a" stroke="#1a1a1a" stroke-width="0.25">GPIbα high/PS+</text>
<rect x="438.30" y="81.20" width="11.90" height="5.60" fill="#BCC0D6"/>
<rect x="438.60" y="81.50" width="11.30" height="5.00" fill="none" stroke="#9a9daf" stroke-width="0.6"/>
<text x="453.60" y="86.20" font-size="8.3" text-anchor="start" textLength="51.00" lengthAdjust="spacingAndGlyphs" fill="#1a1a1a" stroke="#1a1a1a" stroke-width="0.25">GPIbα high/PS-</text>
<rect x="0" y="0" width="1.4" height="394" fill="#111"/><rect x="0" y="0" width="520" height="1.4" fill="#111"/><rect x="518.4" y="0" width="1.6" height="394" fill="#111"/><rect x="0" y="392.2" width="520" height="1.8" fill="#111"/>
</svg>
</body></html>
